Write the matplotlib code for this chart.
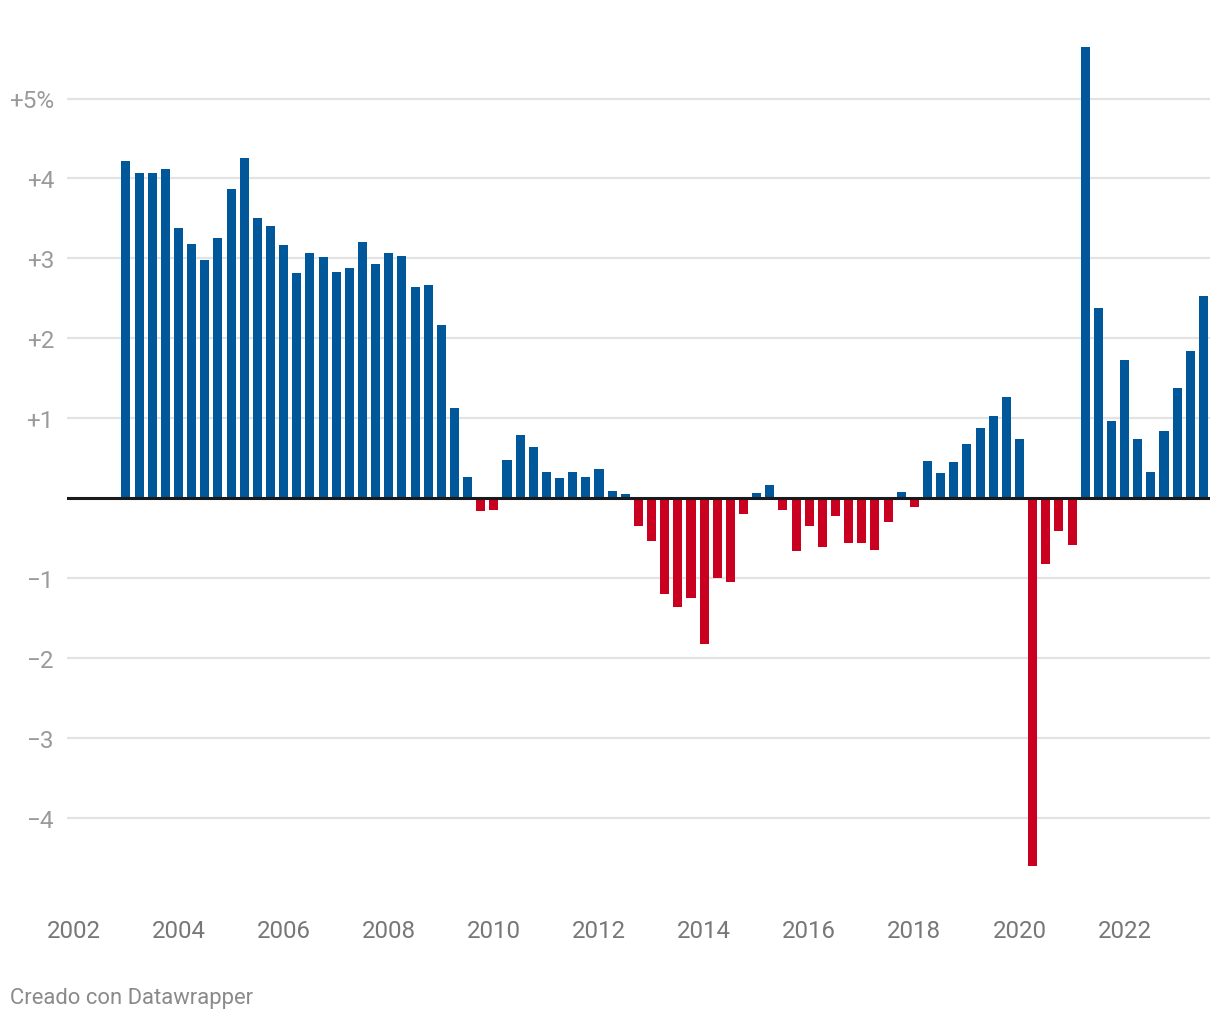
import matplotlib
matplotlib.use("Agg")
import matplotlib.pyplot as plt
import numpy as np

plt.rcParams['font.family'] = ['Roboto', 'DejaVu Sans']

# Quarterly values starting 2003 Q1
start_year = 2003.0
values = [
    4.22, 4.07, 4.07, 4.12, 3.38, 3.18, 2.98, 3.25, 3.87, 4.26,
    3.50, 3.40, 3.17, 2.82, 3.07, 3.02, 2.83, 2.88, 3.21, 2.93,
    3.07, 3.03, 2.64, 2.66, 2.16, 1.13, 0.26, -0.16, -0.15, 0.48,
    0.79, 0.64, 0.33, 0.25, 0.33, 0.26, 0.36, 0.09, 0.05, -0.35,
    -0.54, -1.20, -1.37, -1.25, -1.83, -1.00, -1.05, -0.20, 0.06, 0.16,
    -0.15, -0.66, -0.35, -0.61, -0.23, -0.56, -0.56, -0.65, -0.30, 0.08,
    -0.11, 0.46, 0.31, 0.45, 0.68, 0.88, 1.03, 1.27, 0.74, -4.61,
    -0.83, -0.41, -0.59, 5.64, 2.38, 0.96, 1.73, 0.74, 0.33, 0.84,
    1.38, 1.84, 2.53,
]
y_ticks = [-4, -3, -2, -1, 0, 1, 2, 3, 4, 5]
y_labels = ["\u22124", "\u22123", "\u22122", "\u22121", "", "+1", "+2", "+3", "+4", "+5%"]
x_ticks = [2002, 2004, 2006, 2008, 2010, 2012, 2014, 2016, 2018, 2020, 2022]
footer = "Creado con Datawrapper"

BLUE = "#00579a"
RED = "#c90020"

x = start_year + 0.25 * np.arange(len(values))
vals = np.array(values)
colors = [BLUE if v >= 0 else RED for v in vals]

fig = plt.figure(figsize=(12.2, 10.2), dpi=100)
W, H = 1220, 1020
top_px, bot_px, zero_px = 41.0, 881.0, 499.0
ax = fig.add_axes([67 / W, 1 - bot_px / H, (1210 - 67) / W, (bot_px - top_px) / H])

ppy = 52.56
x0 = 2002 - (73.4 - 67) / ppy
x1 = 2002 + (1210 - 73.4) / ppy
ax.set_xlim(x0, x1)
ppu = 79.9
ax.set_ylim(-(bot_px - zero_px) / ppu, (zero_px - top_px) / ppu)

ax.bar(x, vals, width=0.172, color=colors, zorder=3)

for t in y_ticks:
    if t != 0:
        ax.axhline(t, color="#e3e3e3", lw=1.6, zorder=1)
ax.axhline(0, color="#1a1a1a", lw=2.2, zorder=4)

ax.set_yticks(y_ticks)
ax.set_yticklabels(y_labels)
ax.set_xticks(x_ticks)
ax.set_xticklabels([str(t) for t in x_ticks])
ax.tick_params(axis="y", length=0, pad=9.4, labelsize=17.5, labelcolor="#9a9a9a")
ax.tick_params(axis="x", length=0, pad=28, labelsize=17.3, labelcolor="#777777")
for s in ax.spines.values():
    s.set_visible(False)

fig.text(10 / W, 1 - 999 / H, footer, fontsize=15.8, color="#8a8a8a", ha="left", va="center")

fig.savefig("out.png", dpi=100, facecolor="white")
